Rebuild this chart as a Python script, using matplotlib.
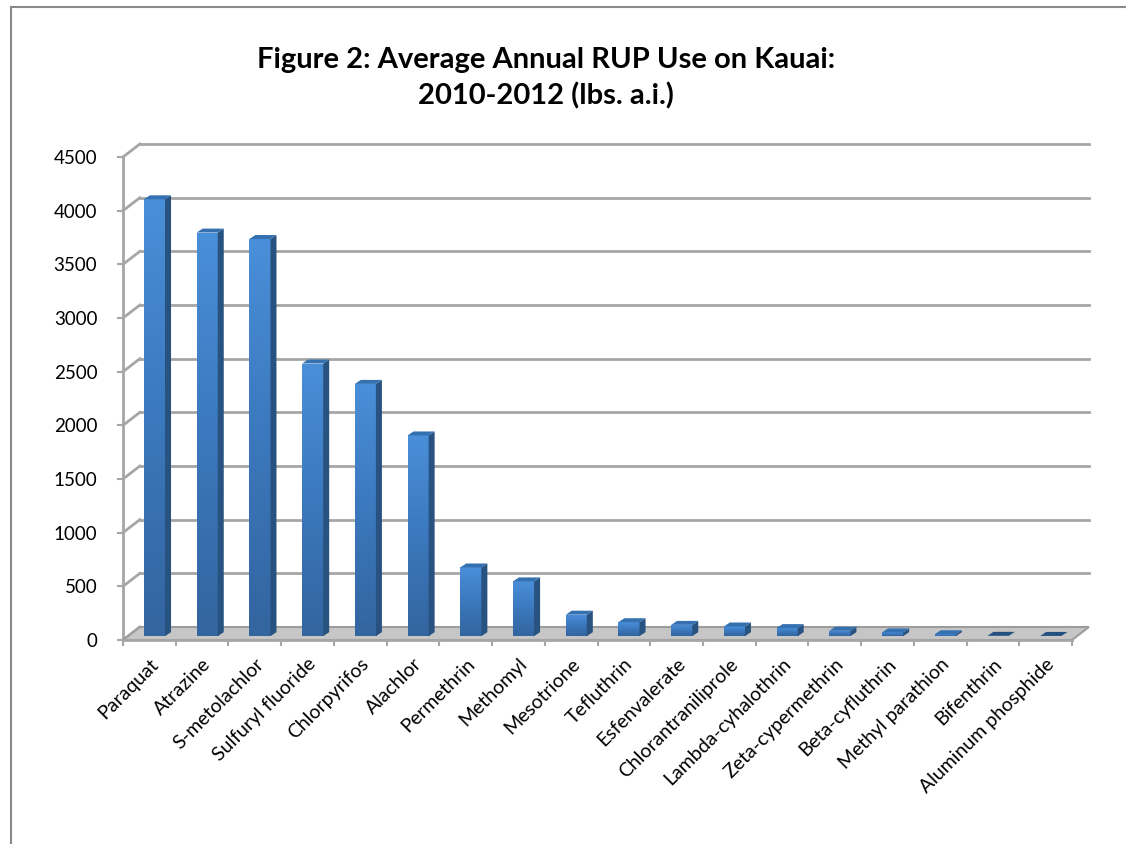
import numpy as np
import matplotlib
matplotlib.use("Agg")
import matplotlib.pyplot as plt
from matplotlib.patches import Polygon, Rectangle
from matplotlib.colors import LinearSegmentedColormap

plt.rcParams['font.family'] = ['Lato', 'DejaVu Sans']

chemicals = ["Paraquat", "Atrazine", "S-metolachlor", "Sulfuryl fluoride",
             "Chlorpyrifos", "Alachlor", "Permethrin", "Methomyl", "Mesotrione",
             "Tefluthrin", "Esfenvalerate", "Chlorantraniliprole",
             "Lambda-cyhalothrin", "Zeta-cypermethrin", "Beta-cyfluthrin",
             "Methyl parathion", "Bifenthrin", "Aluminum phosphide"]
lbs_ai = [4070, 3760, 3700, 2540, 2350, 1870, 640, 510, 200,
          130, 105, 90, 75, 50, 35, 18, 3, 2]
yticks = [0, 500, 1000, 1500, 2000, 2500, 3000, 3500, 4000, 4500]
title = "Figure 2: Average Annual RUP Use on Kauai:\n2010-2012 (lbs. a.i.)"

# fake 3d depth, in data units
DX, DY = 0.32, 121      # floor / back wall offset
BX, BY = 0.097, 36      # where bars stand inside the depth
SX, SY = 0.114, 37      # bar depth
BW = 0.40

grid_col = "#a6a6a6"

fig = plt.figure(figsize=(11.26, 8.44), dpi=100)
ax = fig.add_axes([123/1126, 204/844, 949/1126, 483/844])
n = len(chemicals)
ax.set_xlim(-0.5, n - 0.5)
ax.set_ylim(0, 4500)
for s in ax.spines.values():
    s.set_visible(False)

# outer chart frame (only left and top edges show)
fig.add_artist(Rectangle((11/1126, -0.1), 1.2, (844-7)/844 + 0.1, transform=fig.transFigure,
                         fill=False, edgecolor="#8a8a8a", lw=1.5))

# floor
floor = Polygon([(-0.5, 0), (n - 0.5, 0), (n - 0.5 + DX, DY), (-0.5 + DX, DY)],
                closed=True, facecolor="#c6c6c6", edgecolor="#9c9c9c", lw=1.5,
                clip_on=False, zorder=1)
ax.add_patch(floor)

# back wall gridlines and side-wall diagonals
for v in yticks[1:]:
    ax.plot([-0.5 + DX, n - 0.5 + DX], [v + DY, v + DY], color=grid_col, lw=2,
            clip_on=False, zorder=0)
for v in yticks:
    ax.plot([-0.5, -0.5 + DX], [v, v + DY], color=grid_col, lw=2,
            clip_on=False, zorder=0)
ax.plot([-0.5, -0.5], [0, 4500], color=grid_col, lw=2, clip_on=False, zorder=0)

# bars
grad = LinearSegmentedColormap.from_list("g", ["#33659f", "#3b78bd", "#4a8fd9"])
gimg = np.linspace(0, 1, 256).reshape(-1, 1)
x = np.arange(n)
for i, v in enumerate(lbs_ai):
    x0 = x[i] - BW / 2 + BX
    x1 = x0 + BW
    b = BY
    t = BY + v
    front = Rectangle((x0, b), BW, v, facecolor="#3d7cc4", edgecolor="none", zorder=3)
    ax.add_patch(front)
    if v > 5:
        im = ax.imshow(gimg, cmap=grad, aspect="auto", origin="lower",
                       extent=(x0, x1, b, t), zorder=3)
        im.set_clip_path(front)
    side = Polygon([(x1, b), (x1 + SX, b + SY), (x1 + SX, t + SY), (x1, t)],
                   closed=True, facecolor="#28527f", edgecolor="none", zorder=3)
    ax.add_patch(side)
    top_col = "#24507f" if v < 10 else "#3570b0"
    top = Polygon([(x0, t), (x0 + SX, t + SY), (x1 + SX, t + SY), (x1, t)],
                  closed=True, facecolor=top_col, edgecolor="none", zorder=3)
    ax.add_patch(top)

# front axes
ax.plot([-0.5, n - 0.5], [0, 0], color=grid_col, lw=2, clip_on=False, zorder=4)
ax.set_yticks(yticks)
ax.set_yticklabels([str(v) for v in yticks], fontsize=13.5)
ax.tick_params(axis="y", direction="out", length=4.5, width=1.5, color=grid_col, pad=14)
ax.set_xticks(x)
ax.set_xticklabels(chemicals, rotation=45, ha="right", va="top",
                   rotation_mode="anchor", fontsize=14)
ax.tick_params(axis="x", length=0, pad=11)
ax.set_xticks(np.arange(n + 1) - 0.5, minor=True)
ax.tick_params(axis="x", which="minor", direction="out", length=4.5, width=1.5,
               color=grid_col)
for lab in ax.get_xticklabels():
    lab.set_x(lab.get_position()[0] + 0.12)

fig.text(546/1126, 1 - 78/844, title, ha="center", va="center", fontsize=21,
         fontweight="bold", linespacing=1.42)

fig.savefig("out.png", dpi=100)
